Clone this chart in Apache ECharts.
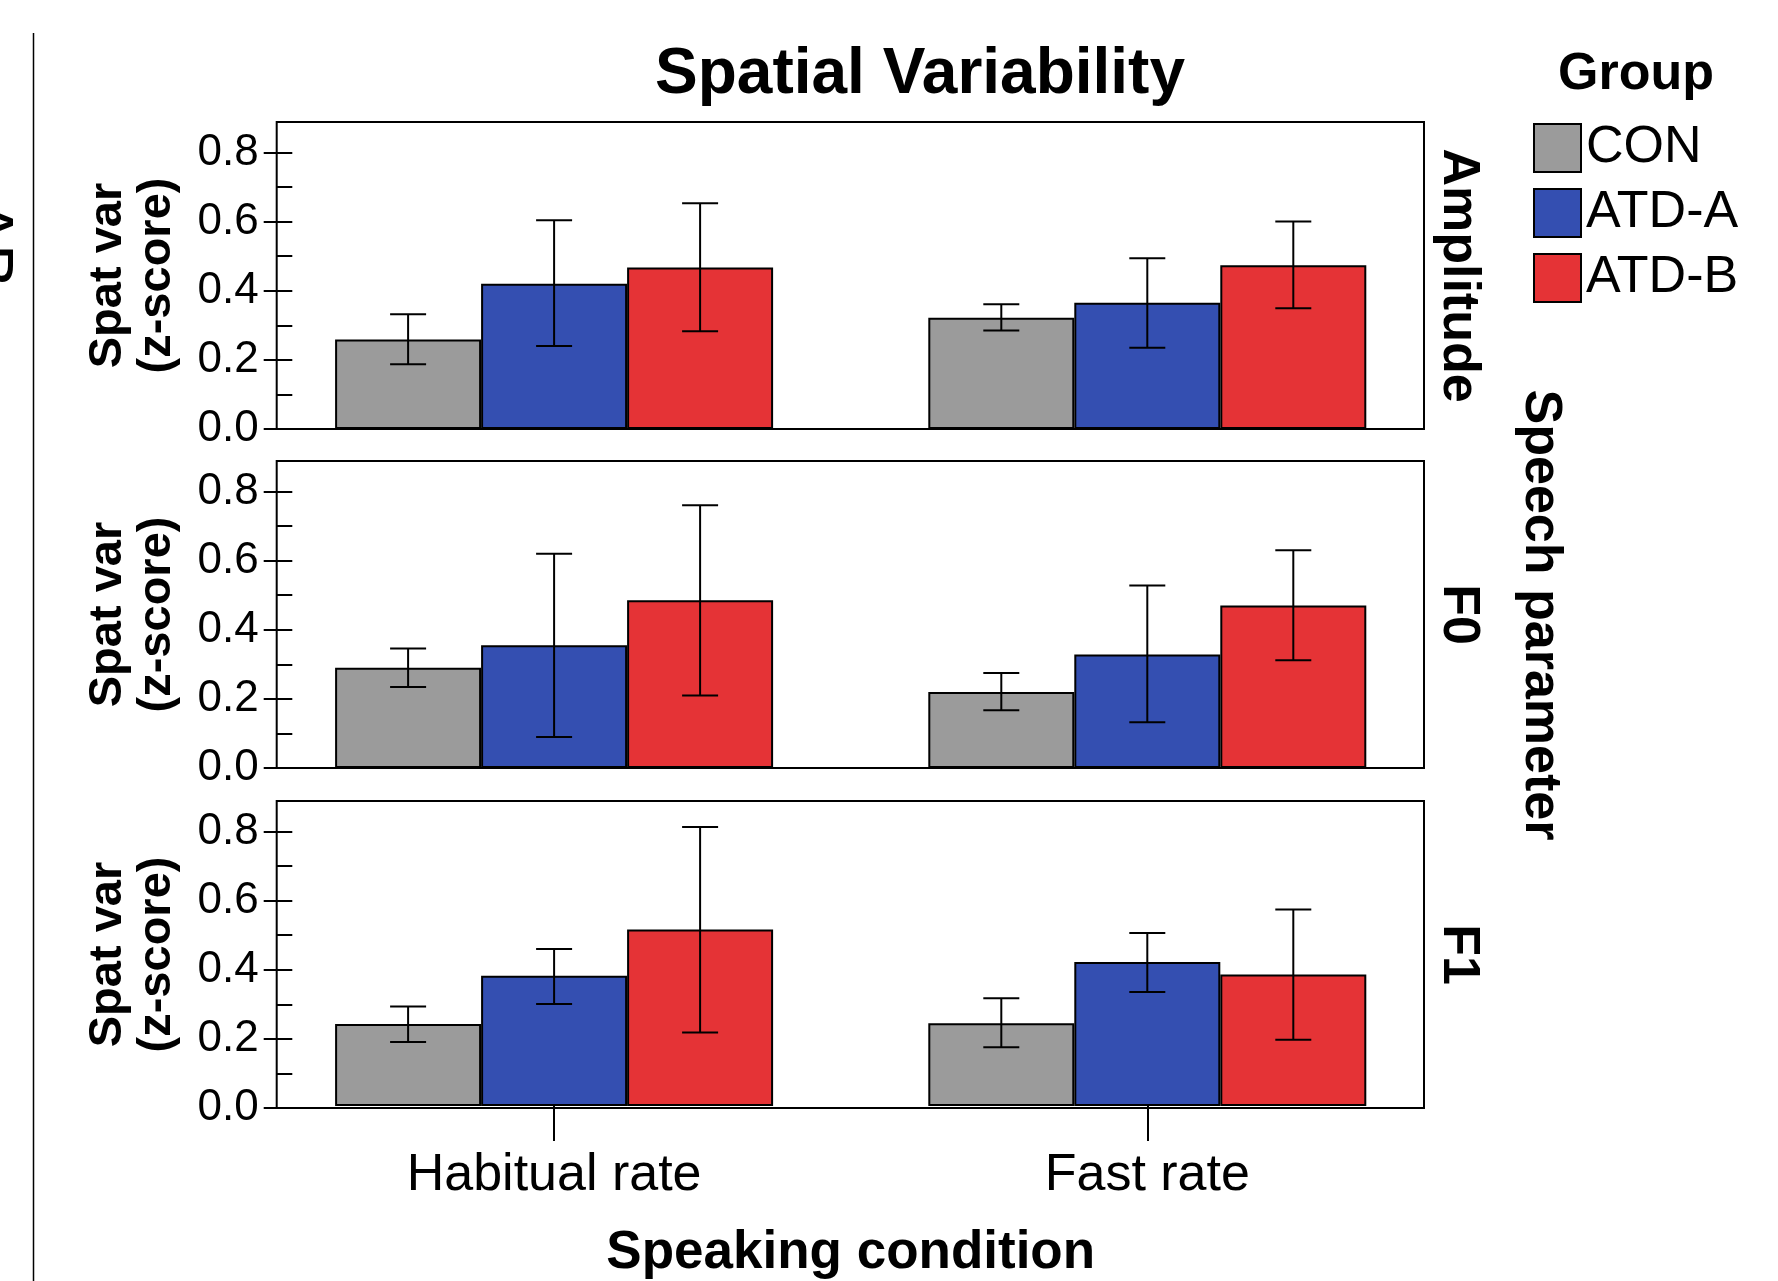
<!DOCTYPE html>
<html>
<head>
<meta charset="utf-8">
<script src="https://cdn.jsdelivr.net/npm/echarts@6/dist/echarts.min.js"></script>
<style>
  html, body { margin: 0; padding: 0; background: #fff; }
  #chart { width: 1778px; height: 1281px; }
</style>
</head>
<body>
<div id="chart"></div>
<script>
// categories
const conditions = ['Habitual rate', 'Fast rate'];
const groups = ['CON', 'ATD-A', 'ATD-B'];
const parameters = ['Amplitude', 'F0', 'F1'];
const yTicks = [0, 0.2, 0.4, 0.6, 0.8];
const yMinorTicks = [0, 0.1, 0.2, 0.3, 0.4, 0.5, 0.6, 0.7, 0.8];

// rows = groups (CON, ATD-A, ATD-B), cols = conditions (habitual, fast)
const amplitudeMean = [[0.259, 0.322], [0.420, 0.365], [0.467, 0.474]];
const amplitudeLow  = [[0.187, 0.285], [0.240, 0.235], [0.283, 0.349]];
const amplitudeHigh = [[0.332, 0.361], [0.604, 0.494], [0.653, 0.600]];

const f0Mean = [[0.290, 0.220], [0.355, 0.328], [0.485, 0.470]];
const f0Low  = [[0.234, 0.167], [0.090, 0.132], [0.210, 0.312]];
const f0High = [[0.346, 0.275], [0.620, 0.528], [0.760, 0.630]];

const f1Mean = [[0.239, 0.241], [0.379, 0.419], [0.514, 0.383]];
const f1Low  = [[0.186, 0.171], [0.297, 0.332], [0.214, 0.193]];
const f1High = [[0.290, 0.314], [0.457, 0.504], [0.812, 0.572]];

const means = [amplitudeMean, f0Mean, f1Mean];
const lows = [amplitudeLow, f0Low, f1Low];
const highs = [amplitudeHigh, f0High, f1High];

const colors = ['#9b9b9b', '#344fb1', '#e53336'];
const FONT = "'Liberation Sans', Arial, Helvetica, sans-serif";
const Y_MAX = 0.888;
const BAR_W = 146;
const CAP_W = 36;
const panelTop = [122, 461, 801];
const panelH = 307;

const chart = echarts.init(document.getElementById('chart'));

const grid = [];
const xAxis = [];
const yAxis = [];
const series = [];

// frame grids (box + y axis), index 0..2
panelTop.forEach((top, p) => {
  grid.push({ left: 276.7, right: 354, top: top, height: panelH, show: true,
    borderColor: '#000', borderWidth: 2, backgroundColor: 'transparent', z: 5 });
  xAxis.push({ type: 'category', gridIndex: p, data: conditions, show: false });
  yAxis.push({
    type: 'value', gridIndex: p, min: 0, max: Y_MAX, position: 'left',
    name: 'Spat var\n(z-score)', nameLocation: 'middle', nameGap: 95,
    nameTextStyle: { fontFamily: FONT, fontSize: 47, fontWeight: 'bold', color: '#000', lineHeight: 49 },
    axisLine: { show: false },
    splitLine: { show: false },
    axisTick: { show: true, inside: false, length: 13, customValues: yTicks,
      lineStyle: { color: '#000', width: 2 } },
    axisLabel: { fontFamily: FONT, fontSize: 44, color: '#000', margin: 18,
      customValues: yTicks, padding: [12, 0, 0, 0],
      formatter: v => v.toFixed(1) }
  });
  yAxis.push({
    type: 'value', gridIndex: p, min: 0, max: Y_MAX, position: 'left',
    axisLine: { show: false },
    splitLine: { show: false },
    axisLabel: { show: false },
    axisTick: { show: true, inside: true, length: 15.6, customValues: yMinorTicks,
      lineStyle: { color: '#000', width: 2 } }
  });
});

// bar grids, index 3..5
panelTop.forEach((top, p) => {
  const last = p === panelTop.length - 1;
  grid.push({ left: 257.5, right: 334.1, top: top, height: panelH });
  xAxis.push({
    type: 'category', gridIndex: 3 + p, data: conditions,
    axisLine: { show: false },
    axisTick: { show: last, alignWithLabel: true, length: 35, lineStyle: { color: '#000', width: 2 } },
    axisLabel: { show: last, fontFamily: FONT, fontSize: 52, color: '#000', margin: 44 },
    name: last ? 'Speaking condition' : '', nameLocation: 'middle', nameGap: 121,
    nameTextStyle: { fontFamily: FONT, fontSize: 53, fontWeight: 'bold', color: '#000' }
  });
  yAxis.push({ type: 'value', gridIndex: 3 + p, min: 0, max: Y_MAX, show: false });
});

// bars + error bars
means.forEach((m, p) => {
  groups.forEach((g, gi) => {
    series.push({
      name: g, type: 'bar', xAxisIndex: 3 + p, yAxisIndex: 6 + p,
      barWidth: BAR_W, barGap: '0%',
      itemStyle: { color: colors[gi], borderColor: '#000', borderWidth: 2 },
      data: m[gi],
      z: 2
    });
  });
  const errData = [];
  groups.forEach((g, gi) => {
    conditions.forEach((c, ci) => {
      errData.push([ci, lows[p][gi][ci], highs[p][gi][ci], gi]);
    });
  });
  series.push({
    name: 'err' + p, type: 'custom', xAxisIndex: 3 + p, yAxisIndex: 6 + p, z: 3,
    data: errData,
    renderItem: (params, api) => {
      const lo = api.coord([api.value(0), api.value(1)]);
      const hi = api.coord([api.value(0), api.value(2)]);
      const x = lo[0] + (api.value(3) - 1) * BAR_W;
      const st = { stroke: '#000', lineWidth: 2 };
      return { type: 'group', children: [
        { type: 'line', shape: { x1: x, y1: hi[1], x2: x, y2: lo[1] }, style: st },
        { type: 'line', shape: { x1: x - CAP_W / 2, y1: hi[1], x2: x + CAP_W / 2, y2: hi[1] }, style: st },
        { type: 'line', shape: { x1: x - CAP_W / 2, y1: lo[1], x2: x + CAP_W / 2, y2: lo[1] }, style: st }
      ] };
    }
  });
});

const graphic = [
  { type: 'text', x: 920, y: 75, style: { text: 'Spatial Variability', font: `bold 64px ${FONT}`,
    fill: '#000', align: 'center', verticalAlign: 'middle' } },
  { type: 'text', x: 1636, y: 75, style: { text: 'Group', font: `bold 52px ${FONT}`,
    fill: '#000', align: 'center', verticalAlign: 'middle' } },
  { type: 'text', x: 1540, y: 615, rotation: -Math.PI / 2, style: { text: 'Speech parameter',
    font: `bold 52px ${FONT}`, fill: '#000', align: 'center', verticalAlign: 'middle' } },
  { type: 'line', shape: { x1: 33.5, y1: 33, x2: 33.5, y2: 1281 }, style: { stroke: '#000', lineWidth: 1.5 } },
  { type: 'text', x: -15, y: 244, rotation: -Math.PI / 2, style: { text: 'AB',
    font: `66px ${FONT}`, fill: '#000', align: 'center', verticalAlign: 'middle' } }
];
parameters.forEach((name, p) => {
  graphic.push({ type: 'text', x: 1458, y: panelTop[p] + panelH / 2, rotation: -Math.PI / 2,
    style: { text: name, font: `bold 52px ${FONT}`, fill: '#000', align: 'center', verticalAlign: 'middle' } });
});

chart.setOption({
  animation: false,
  textStyle: { fontFamily: FONT },
  legend: {
    data: groups, orient: 'vertical', left: 1533, top: 122, padding: 0,
    itemWidth: 47, itemHeight: 48, itemGap: 13, icon: 'rect',
    itemStyle: { borderColor: '#000', borderWidth: 2 },
    textStyle: { fontFamily: FONT, fontSize: 52, color: '#000', lineHeight: 48 }
  },
  grid: grid,
  xAxis: xAxis,
  yAxis: yAxis,
  series: series,
  graphic: graphic
});
</script>
</body>
</html>
